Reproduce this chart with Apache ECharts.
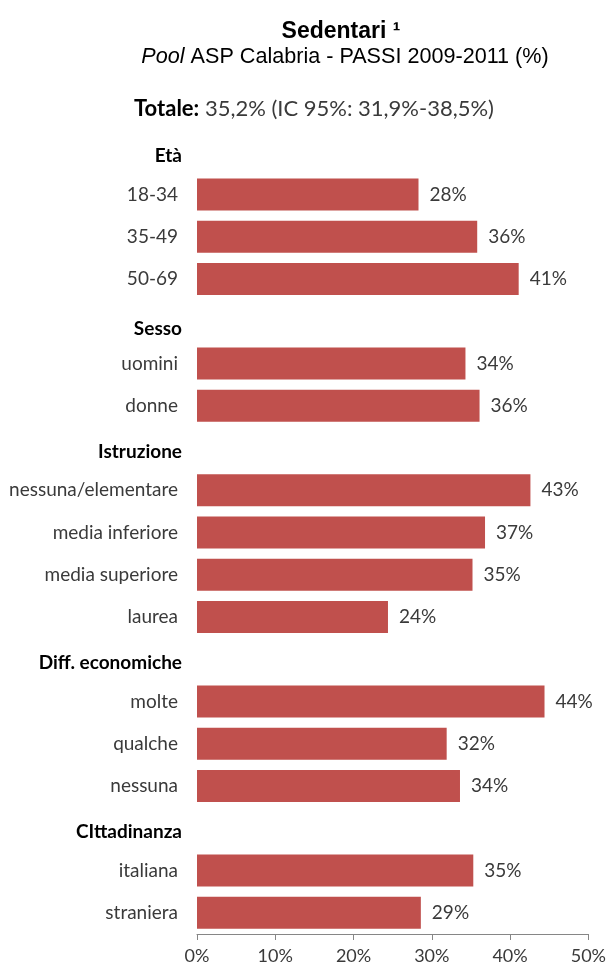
<!DOCTYPE html>
<html>
<head>
<meta charset="utf-8">
<script src="https://cdn.jsdelivr.net/npm/echarts@6/dist/echarts.min.js"></script>
<style>
  html, body { margin: 0; padding: 0; background: #fff; }
  #chart { width: 609px; height: 969px; }
</style>
</head>
<body>
<div id="chart"></div>
<script>
// Row labels (group headers interleaved with their categories, top to bottom)
const categories = [
  'Età', '18-34', '35-49', '50-69',
  'Sesso', 'uomini', 'donne',
  'Istruzione', 'nessuna/elementare', 'media inferiore', 'media superiore', 'laurea',
  'Diff. economiche', 'molte', 'qualche', 'nessuna',
  'CIttadinanza', 'italiana', 'straniera'
];
const groupHeaders = ['Età', 'Sesso', 'Istruzione', 'Diff. economiche', 'CIttadinanza'];

// Prevalence of sedentary people (%); header rows carry no value
const sedentariPct = [
  null, 28.3, 35.8, 41.1,
  null, 34.3, 36.1,
  null, 42.6, 36.8, 35.2, 24.4,
  null, 44.4, 31.9, 33.6,
  null, 35.3, 28.6
];

// Percentage scale
const xMin = 0;
const xMax = 50;
const xStep = 10;

// Heading texts
const titleText = 'Sedentari ¹';
const subtitleItalic = 'Pool';
const subtitleRest = ' ASP Calabria - PASSI 2009-2011 (%)';
const totalLabel = 'Totale:';
const totalText = ' 35,2% (IC 95%: 31,9%-38,5%)';

const SANS = '"Liberation Sans", Arial, sans-serif';
const BODY = 'Lato, "Noto Sans", sans-serif';
const TEXT_GREY = '#3a3a3a';

const chart = echarts.init(document.getElementById('chart'), null, { renderer: 'canvas' });

chart.setOption({
  animation: false,
  backgroundColor: '#ffffff',
  title: [
    {
      text: titleText,
      left: 336, top: 13, textAlign: 'center',
      textStyle: { fontFamily: SANS, fontSize: 23, fontWeight: 'bold', color: '#000', lineHeight: 27 }
    },
    {
      text: '{i|' + subtitleItalic + '}{r|' + subtitleRest + '}',
      left: 340, top: 39, textAlign: 'center',
      textStyle: {
        fontWeight: 'normal',
        rich: {
          i: { fontFamily: SANS, fontSize: 21.6, fontStyle: 'italic', fontWeight: 'normal', color: '#000', lineHeight: 26 },
          r: { fontFamily: SANS, fontSize: 21.6, fontWeight: 'normal', color: '#000', lineHeight: 26 }
        }
      }
    },
    {
      text: '{b|' + totalLabel + '}{r|' + totalText + '}',
      left: 309, top: 90, textAlign: 'center',
      textStyle: {
        fontWeight: 'normal',
        rich: {
          b: { fontFamily: BODY, fontSize: 22, fontWeight: 'bold', color: '#000', lineHeight: 28 },
          r: { fontFamily: BODY, fontSize: 22, fontWeight: 'normal', color: TEXT_GREY, lineHeight: 28 }
        }
      }
    }
  ],
  grid: { left: 197, right: 18, top: 131, bottom: 35, containLabel: false },
  xAxis: {
    type: 'value',
    min: xMin, max: xMax, interval: xStep,
    axisLine: { show: true, lineStyle: { color: '#868686', width: 1 } },
    axisTick: { show: true, length: 6, lineStyle: { color: '#868686' } },
    splitLine: { show: false },
    axisLabel: {
      margin: 13,
      fontFamily: BODY, fontSize: 18, color: TEXT_GREY,
      formatter: v => v + '%'
    }
  },
  yAxis: {
    type: 'category',
    inverse: true,
    data: categories,
    axisLine: { show: false },
    axisTick: { show: false },
    axisLabel: {
      margin: 15,
      formatter: v => {
        if (v === 'Sesso') return '{hs|' + v + '}';
        if (groupHeaders.includes(v)) return '{h|' + v + '}';
        return '{n|' + v + '}';
      },
      rich: {
        n: { fontFamily: BODY, fontSize: 19, color: TEXT_GREY, padding: [0, 4, 0, 0] },
        h: { fontFamily: BODY, fontSize: 19, fontWeight: 'bold', color: '#000', padding: [8, 0, 0, 0] },
        hs: { fontFamily: BODY, fontSize: 19, fontWeight: 'bold', color: '#000', padding: [16, 0, 0, 0] }
      }
    }
  },
  series: [{
    type: 'bar',
    data: sedentariPct,
    barWidth: 32,
    itemStyle: { color: '#C0504D' },
    label: {
      show: true,
      position: 'right',
      distance: 11,
      fontFamily: BODY, fontSize: 19, color: TEXT_GREY,
      formatter: p => Math.round(p.value) + '%'
    }
  }]
});
</script>
</body>
</html>
